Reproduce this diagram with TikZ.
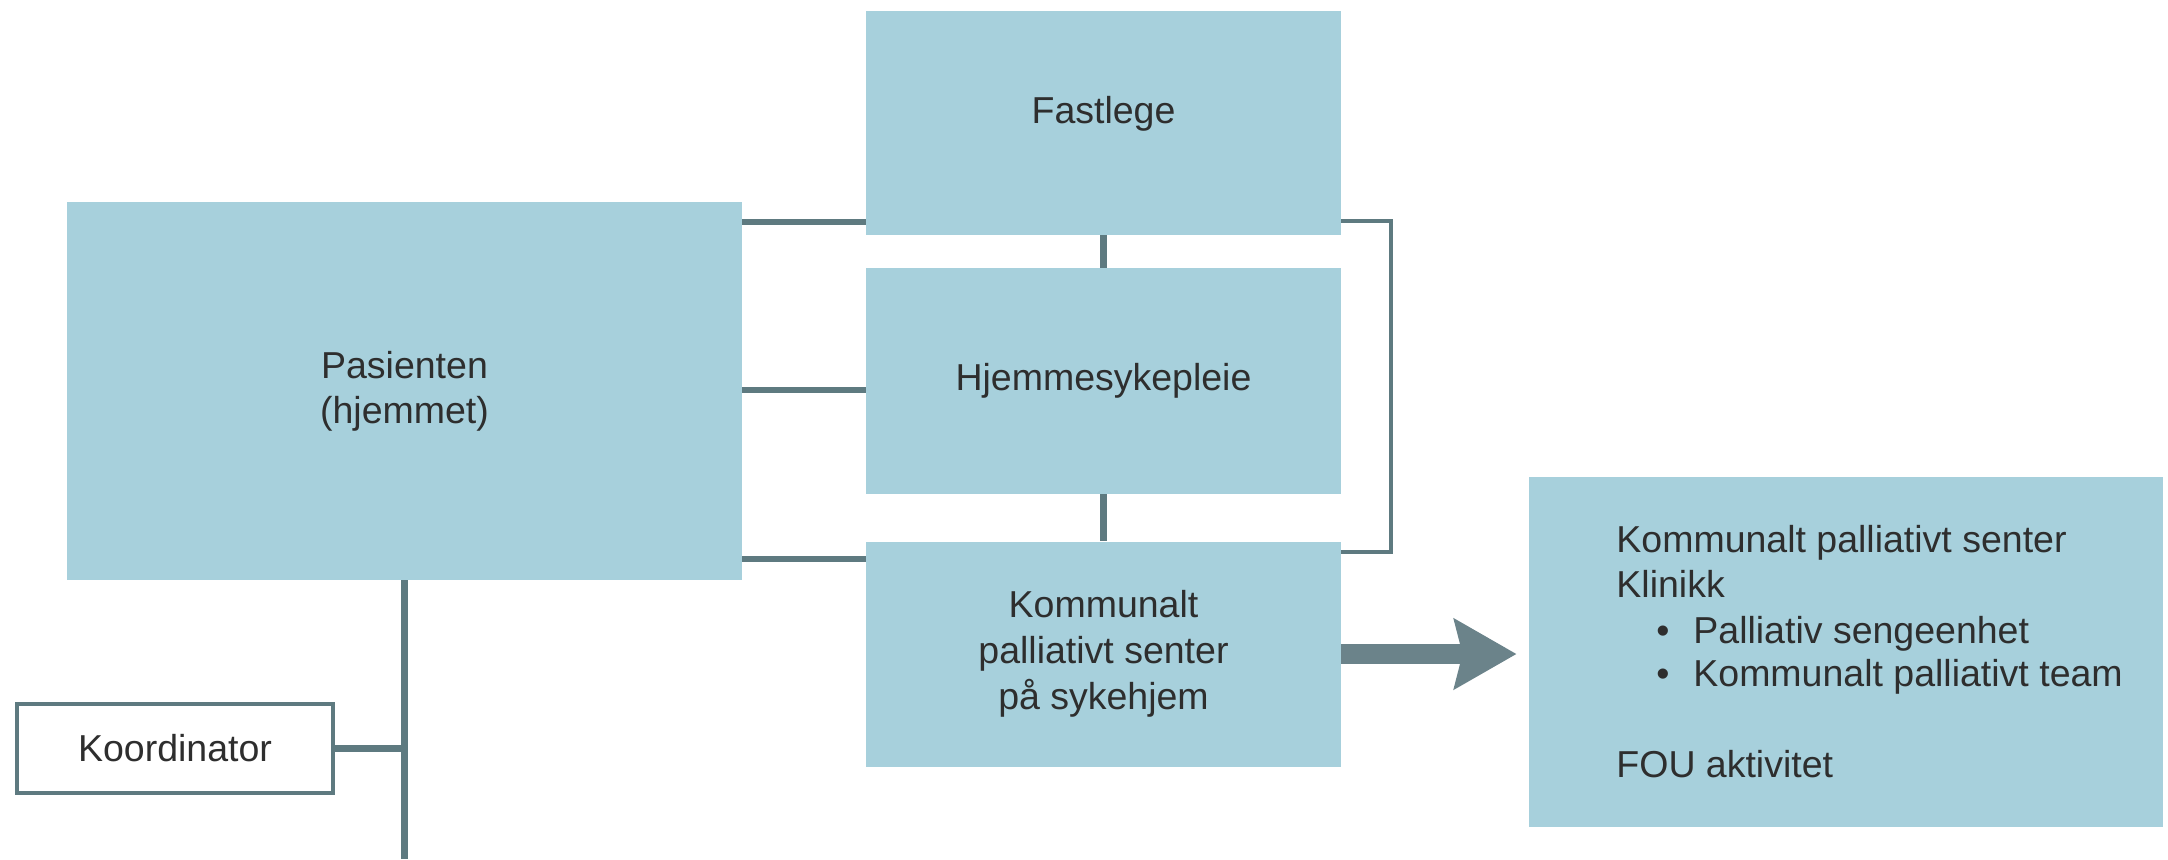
\documentclass[tikz,border=0pt]{standalone}
\usepackage{fontspec}
\setmainfont{Liberation Sans}
\usetikzlibrary{arrows.meta,calc}
\definecolor{boxfill}{HTML}{A7D0DC}
\definecolor{linecol}{HTML}{5E7A80}
\definecolor{arrowcol}{HTML}{6B838A}
\definecolor{txtcol}{HTML}{2E2E2E}
\begin{document}
\begin{tikzpicture}[x=0.5pt,y=-0.5pt,
  every node/.style={font=\fontsize{18.75pt}{22.5pt}\selectfont, text=txtcol},
  bluebox/.style={fill=boxfill, draw=none, inner sep=0pt, align=center},
  koordbox/.style={fill=white, draw=linecol, line width=2pt, inner sep=0pt,
    minimum width=158pt, minimum height=44.5pt},
  conn/.style={draw=linecol, line width=3.25pt},
  bracketline/.style={draw=linecol, line width=2pt},
  txtline/.style={anchor=base west, inner sep=0pt}]
\useasboundingbox (0,0) rectangle (2168,859);

% boxes
\node[bluebox, minimum width=337.5pt, minimum height=189pt] (pas) at (404.5,391) {Pasienten\\(hjemmet)};
\node[bluebox, minimum width=237.5pt, minimum height=112pt, text height=14pt, text depth=13.6pt] (fast) at (1103.5,123) {Fastlege};
\node[bluebox, minimum width=237.5pt, minimum height=113pt] (hjem) at (1103.5,381) {Hjemmesykepleie};
\node[bluebox, minimum width=237.5pt, minimum height=112.5pt, font=\fontsize{18.75pt}{23pt}\selectfont] (komm) at (1103.5,654) {Kommunalt\\palliativt senter\\på sykehjem};
\node[bluebox, minimum width=317pt, minimum height=175pt] (klin) at (1846,652) {};
\node[koordbox] (koord) at (175,748.5) {Koordinator};

% text of the right box
\node[txtline] (k1) at (1616,552) {Kommunalt palliativt senter};
\node[txtline] (k2) at (1616,597) {Klinikk};
\node[txtline] (k3) at (1616,643) {\makebox[38.5pt][l]{\hspace*{20pt}•}Palliativ sengeenhet};
\node[txtline] (k4) at (1616,686) {\makebox[38.5pt][l]{\hspace*{20pt}•}Kommunalt palliativt team};
\node[txtline] (k5) at (1616,777) {FOU aktivitet};

% connectors
\draw[conn] (pas.east |- 0,222) -- (fast.west |- 0,222);
\draw[conn] (pas.east |- 0,390) -- (hjem.west |- 0,390);
\draw[conn] (pas.east |- 0,559) -- (komm.west |- 0,559);
\draw[conn] (fast.south) -- (hjem.north);
\draw[conn] (hjem.south) -- (komm.north);
\draw[bracketline] (fast.east |- 0,221) -| (1391,552) -- (komm.east |- 0,552);
\coordinate (pasfoot) at (pas.south |- 0,859);
\draw[conn] (pas.south) -- (pasfoot);
\draw[conn] (koord.east) -- (koord.east -| pas.south);

% arrow
\draw[arrowcol, line width=10pt, -{Stealth[length=31pt,width=34.5pt,inset=4pt]}]
  (komm.east) -- ($(klin.west |- komm.east)+(-12,0)$);
\end{tikzpicture}
\end{document}
